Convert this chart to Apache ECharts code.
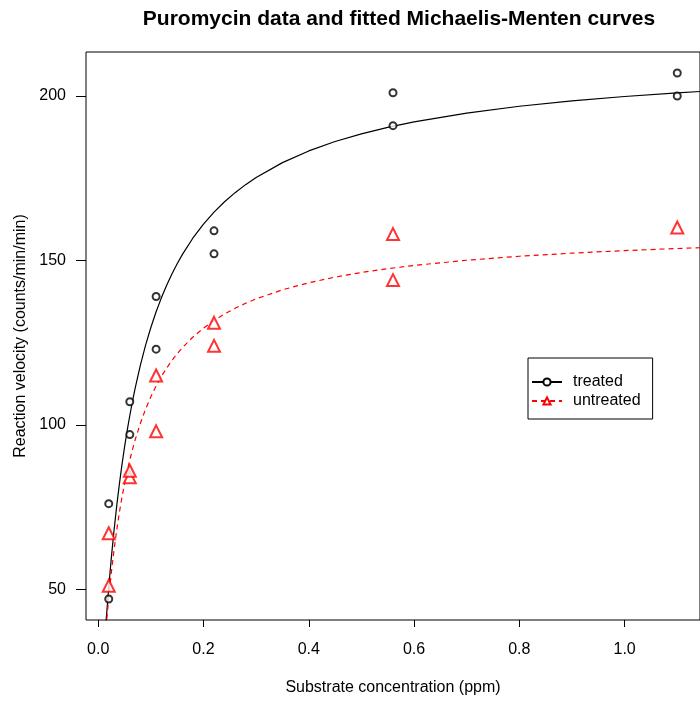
<!DOCTYPE html>
<html>
<head>
<meta charset="utf-8">
<script src="https://cdn.jsdelivr.net/npm/echarts@6/dist/echarts.min.js"></script>
<style>
  html, body { margin: 0; padding: 0; background: #fff; }
  #chart { width: 700px; height: 701px; }
</style>
</head>
<body>
<div id="chart"></div>
<script>
// Observed reaction velocities (counts/min/min) against substrate concentration (ppm)
const treatedConc = [0.02, 0.02, 0.06, 0.06, 0.11, 0.11, 0.22, 0.22, 0.56, 0.56, 1.10, 1.10];
const treatedRate = [76, 47, 97, 107, 123, 139, 159, 152, 191, 201, 207, 200];
const untreatedConc = [0.02, 0.02, 0.06, 0.06, 0.11, 0.11, 0.22, 0.22, 0.56, 0.56, 1.10];
const untreatedRate = [67, 51, 84, 86, 98, 115, 131, 124, 144, 158, 160];

// Fitted Michaelis-Menten curves, sampled along the concentration axis
const curveConc = [0, 0.005, 0.01, 0.015, 0.02, 0.025, 0.03, 0.035, 0.04, 0.045, 0.05, 0.055, 0.06, 0.065,
  0.07, 0.08, 0.09, 0.10, 0.11, 0.12, 0.13, 0.14, 0.15, 0.16, 0.18, 0.2, 0.22, 0.24, 0.26, 0.28, 0.3,
  0.35, 0.4, 0.45, 0.5, 0.55, 0.6, 0.7, 0.8, 0.9, 1.0, 1.1, 1.15];
const treatedFit = [0, 15.38, 28.69, 40.32, 50.57, 59.66, 67.79, 75.10, 81.71, 87.71, 93.18, 98.20, 102.81, 107.06,
  111.00, 118.06, 124.20, 129.59, 134.36, 138.61, 142.43, 145.87, 148.99, 151.83, 156.82, 161.05, 164.68,
  167.84, 170.61, 173.05, 175.23, 179.75, 183.30, 186.16, 188.51, 190.47, 192.15, 194.83, 196.90, 198.54,
  199.87, 200.97, 201.45];
const untreatedFit = [0, 15.20, 27.77, 38.34, 47.34, 55.11, 61.88, 67.82, 73.10, 77.80, 82.02, 85.83, 89.29, 92.43,
  95.32, 100.40, 104.75, 108.51, 111.79, 114.68, 117.25, 119.54, 121.60, 123.47, 126.70, 129.41, 131.72,
  133.70, 135.43, 136.95, 138.29, 141.05, 143.20, 144.92, 146.32, 147.49, 148.47, 150.05, 151.26, 152.21,
  152.98, 153.62, 153.89];

const xTicks = [0, 0.2, 0.4, 0.6, 0.8, 1.0];
const yTicks = [50, 100, 150, 200];

const zip = (xs, ys) => xs.map((x, i) => [x, ys[i]]);
const FONT = 'Liberation Sans, Arial, Helvetica, sans-serif';

const chart = echarts.init(document.getElementById('chart'), null, { renderer: 'canvas' });
chart.setOption({
  animation: false,
  backgroundColor: '#ffffff',
  title: {
    text: 'Puromycin data and fitted Michaelis-Menten curves',
    left: 394, top: 4, textAlign: 'center',
    textStyle: { fontFamily: FONT, fontSize: 21, fontWeight: 'bold', color: '#000' }
  },
  grid: {
    left: 86, right: -14, top: 52, bottom: 81,
    show: true, borderColor: '#000', borderWidth: 1, backgroundColor: 'transparent'
  },
  legend: {
    left: 528, top: 358, orient: 'vertical',
    data: ['treated', 'untreated'],
    borderColor: '#000', borderWidth: 1, borderRadius: 0,
    padding: [16, 12, 10, 3], itemGap: 3, itemWidth: 30, itemHeight: 9,
    textStyle: { fontFamily: FONT, fontSize: 16, color: '#000', padding: [0, 0, 0, 6] }
  },
  xAxis: {
    type: 'value', min: -0.0232, max: 1.1432,
    name: 'Substrate concentration (ppm)', nameLocation: 'middle', nameGap: 60,
    nameTextStyle: { fontFamily: FONT, fontSize: 16, color: '#000' },
    axisLine: { show: false, onZero: false },
    splitLine: { show: false },
    axisTick: { show: true, length: 7, customValues: xTicks, lineStyle: { color: '#000' } },
    axisLabel: {
      customValues: xTicks, margin: 22,
      fontFamily: FONT, fontSize: 16, color: '#000',
      formatter: v => v.toFixed(1)
    }
  },
  yAxis: {
    type: 'value', min: 40.6, max: 213.4,
    name: 'Reaction velocity (counts/min/min)', nameLocation: 'middle', nameGap: 56,
    nameTextStyle: { fontFamily: FONT, fontSize: 16, color: '#000' },
    axisLine: { show: false, onZero: false },
    splitLine: { show: false },
    axisTick: { show: true, length: 10, customValues: yTicks, lineStyle: { color: '#000' } },
    axisLabel: {
      customValues: yTicks, margin: 20,
      fontFamily: FONT, fontSize: 16, color: '#000'
    }
  },
  series: [
    {
      name: 'treated', type: 'line', data: zip(curveConc, treatedFit),
      showSymbol: false, symbol: 'emptyCircle', symbolSize: 6, clip: true,
      lineStyle: { color: '#000', width: 1.2 }, itemStyle: { color: '#000', borderColor: '#000' },
      z: 3
    },
    {
      name: 'untreated', type: 'line', data: zip(curveConc, untreatedFit),
      showSymbol: false, symbol: 'emptyTriangle', symbolSize: 11, clip: true,
      lineStyle: { color: '#ff0000', width: 1.2, type: [5, 4] }, itemStyle: { color: '#ff0000', borderColor: '#ff0000' },
      z: 3
    },
    {
      name: 'treated points', type: 'scatter', data: zip(treatedConc, treatedRate),
      symbol: 'emptyCircle', symbolSize: 7,
      itemStyle: { color: '#000', borderColor: '#000', borderWidth: 1 }, z: 4
    },
    {
      name: 'untreated points', type: 'scatter', data: zip(untreatedConc, untreatedRate),
      symbol: 'emptyTriangle', symbolSize: 12,
      itemStyle: { color: '#ff0000', borderColor: '#ff0000', borderWidth: 1 }, z: 4
    }
  ]
});
</script>
</body>
</html>
